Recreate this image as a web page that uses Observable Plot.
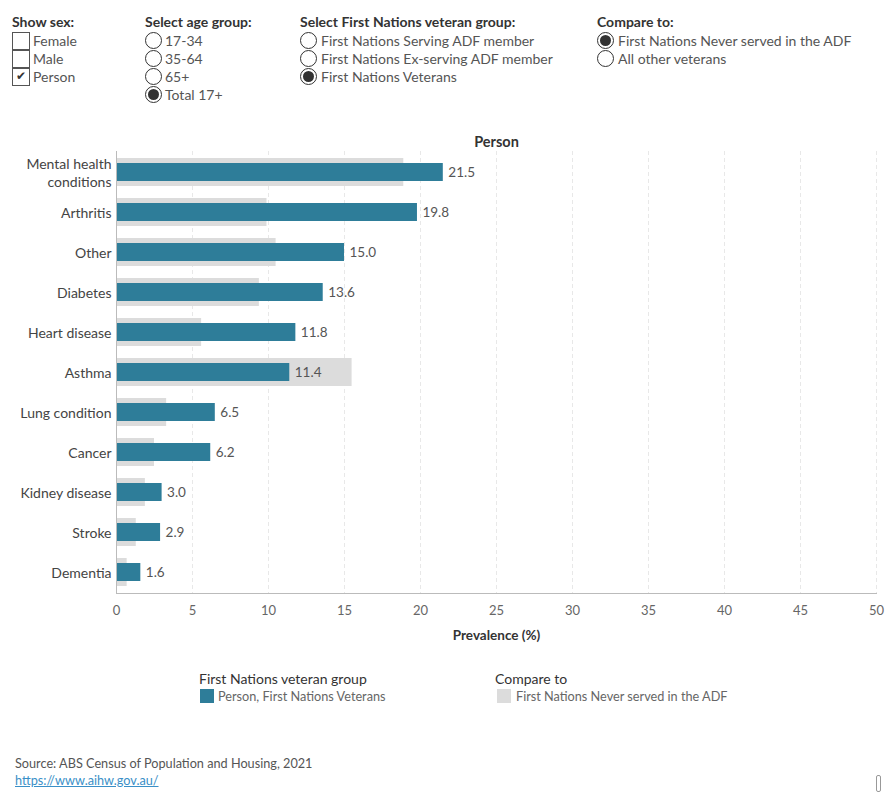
<!DOCTYPE html>
<html>
<head>
<meta charset="utf-8">
<script src="https://cdn.jsdelivr.net/npm/d3@7"></script>
<script src="https://cdn.jsdelivr.net/npm/@observablehq/plot@0.6"></script>
<style>
  html, body { margin: 0; padding: 0; background: #fff; }
  body { width: 890px; height: 800px; position: relative; overflow: hidden; font-family: Lato, "Noto Sans", sans-serif; color: #333; }
  .abs { position: absolute; white-space: nowrap; }
  .hdr { font-weight: bold; font-size: 14px; color: #333; }
  .opt { font-size: 14px; color: #555; height: 18px; line-height: 18px; position: absolute; white-space: nowrap; }
  .box { position: absolute; width: 16px; height: 16px; border: 1px solid #555; background: #fff; }
  .radio { position: absolute; width: 17px; height: 17px; border: 1px solid #333; border-radius: 50%; background: #fff; box-sizing: border-box; }
  .radio.on::after { content: ""; position: absolute; left: 2px; top: 2px; width: 11px; height: 11px; border-radius: 50%; background: #333; }
  .lg-title { font-size: 14px; color: #333; }
  .lg-text { font-size: 12.7px; color: #666; }
  .sw { position: absolute; width: 14px; height: 14px; }
  #chart { position: absolute; left: 0; top: 125px; }
</style>
</head>
<body>
<div id="controls"></div>
<div id="chart"></div>
<div id="legend"></div>
<div class="abs" style="left:15px; top:755px; font-size:12.7px; color:#555;">Source: ABS Census of Population and Housing, 2021</div>
<div class="abs" style="left:15px; top:772px; font-size:12.7px; color:#3a8fc7; text-decoration:underline;">https://www.aihw.gov.au/</div>
<div class="abs" style="left:876px; top:775px; width:3px; height:15px; border:1px solid #999; border-radius:2px;"></div>
<script>
// ---- Data ----
const categories = ["Mental health conditions", "Arthritis", "Other", "Diabetes", "Heart disease", "Asthma", "Lung condition", "Cancer", "Kidney disease", "Stroke", "Dementia"];
const veteranValues = [21.5, 19.8, 15.0, 13.6, 11.8, 11.4, 6.5, 6.2, 3.0, 2.9, 1.6];
const compareValues = [18.9, 9.9, 10.5, 9.4, 5.6, 15.5, 3.3, 2.5, 1.9, 1.3, 0.7];
const xTicks = [0, 5, 10, 15, 20, 25, 30, 35, 40, 45, 50];

const sexOptions = ["Female", "Male", "Person"];
const sexSelected = "Person";
const ageOptions = ["17-34", "35-64", "65+", "Total 17+"];
const ageSelected = "Total 17+";
const groupOptions = ["First Nations Serving ADF member", "First Nations Ex-serving ADF member", "First Nations Veterans"];
const groupSelected = "First Nations Veterans";
const compareOptions = ["First Nations Never served in the ADF", "All other veterans"];
const compareSelected = "First Nations Never served in the ADF";

const chartTitle = "Person";
const xLabel = "Prevalence (%)";
const blue = "#2e7d99";
const grey = "#dcdcdc";

// ---- Controls ----
const ctr = document.getElementById("controls");
function addGroup(x, title, options, selected, kind, labelDx) {
  let html = `<div class="abs hdr" style="left:${x}px; top:13px;">${title}</div>`;
  options.forEach((o, i) => {
    const y = 32 + i * 18;
    if (kind === "check") {
      html += `<div class="box" style="left:${x}px; top:${y}px;">${o === selected ? '<span style="position:absolute;left:3px;top:-1px;font-size:12px;color:#333;">&#10004;</span>' : ''}</div>`;
    } else {
      html += `<div class="radio${o === selected ? ' on' : ''}" style="left:${x}px; top:${y}px;"></div>`;
    }
    html += `<div class="opt" style="left:${x + labelDx}px; top:${y}px;">${o}</div>`;
  });
  ctr.insertAdjacentHTML("beforeend", html);
}
addGroup(12, "Show sex:", sexOptions, sexSelected, "check", 21);
addGroup(145, "Select age group:", ageOptions, ageSelected, "radio", 20);
addGroup(300, "Select First Nations veteran group:", groupOptions, groupSelected, "radio", 21);
addGroup(597, "Compare to:", compareOptions, compareSelected, "radio", 21);

// ---- Chart ----
const data = categories.map((c, i) => ({category: c, value: veteranValues[i], compare: compareValues[i]}));

const plot = Plot.plot({
  width: 890,
  height: 525,
  marginLeft: 116,
  marginRight: 14,
  marginTop: 26,
  marginBottom: 57,
  style: {fontFamily: "Lato, 'Noto Sans', sans-serif", fontSize: "13px", color: "#333", background: "white", overflow: "visible"},
  x: {domain: [0, 50], label: null},
  y: {domain: categories, padding: 0, label: null},
  marks: [
    Plot.gridX(xTicks.slice(1), {stroke: "#e8e8e8", strokeOpacity: 1, strokeDasharray: "4,3"}),
    Plot.barX(data, {x: "compare", y: "category", fill: grey, insetTop: 6, insetBottom: 6}),
    Plot.barX(data, {x: "value", y: "category", fill: blue, insetTop: 11, insetBottom: 11}),
    Plot.text(data, {x: "value", y: "category", text: d => d.value.toFixed(1), dx: 5, textAnchor: "start", fill: "#555", fontSize: 13.5}),
    Plot.axisX(xTicks, {tickSize: 0, tickPadding: 12, fill: "#666", fontSize: 13, label: null}),
    Plot.axisY({tickSize: 0, tickPadding: 5, fill: "#444", fontSize: 14, lineHeight: 1.3, label: null,
      tickFormat: d => d === "Mental health conditions" ? "Mental health\nconditions" : d}),
    Plot.frame({anchor: "left", stroke: "#bbb"}),
    Plot.frame({anchor: "bottom", stroke: "#bbb"}),
    Plot.text([chartTitle], {frameAnchor: "top", lineAnchor: "middle", dy: -9, text: d => d, fontWeight: "bold", fontSize: 14.5, fill: "#333"}),
    Plot.text([xLabel], {frameAnchor: "bottom", lineAnchor: "middle", dy: 42, text: d => d, fontWeight: "bold", fontSize: 13.5, fill: "#333"})
  ]
});
document.getElementById("chart").appendChild(plot);

// ---- Legend ----
const lg = document.getElementById("legend");
lg.innerHTML = `
  <div class="abs lg-title" style="left:199px; top:670px;">First Nations veteran group</div>
  <div class="sw" style="left:200px; top:689px; background:${blue};"></div>
  <div class="abs lg-text" style="left:218px; top:688px;">Person, First Nations Veterans</div>
  <div class="abs lg-title" style="left:495px; top:670px;">Compare to</div>
  <div class="sw" style="left:497px; top:689px; background:${grey};"></div>
  <div class="abs lg-text" style="left:516px; top:688px;">${compareSelected}</div>
`;
</script>
</body>
</html>
